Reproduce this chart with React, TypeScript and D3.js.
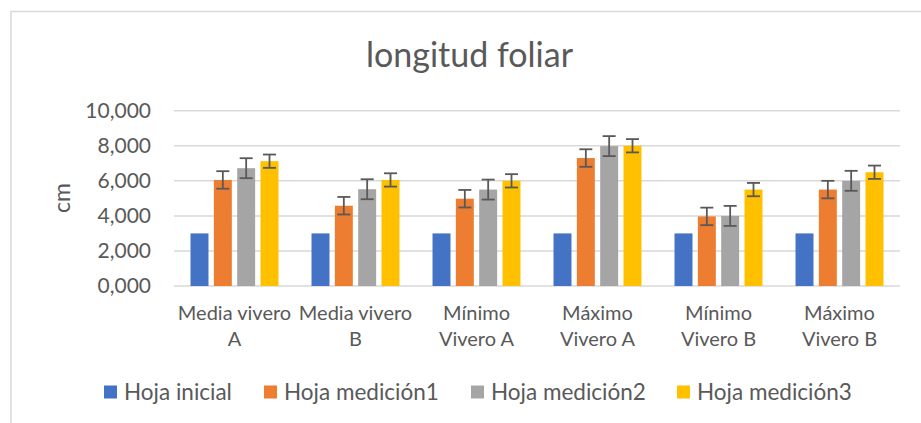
import React from 'react';
import * as d3 from 'd3';

const categoryLines = [
  ['Media vivero', 'A'],
  ['Media vivero', 'B'],
  ['Mínimo', 'Vivero A'],
  ['Máximo', 'Vivero A'],
  ['Mínimo', 'Vivero B'],
  ['Máximo', 'Vivero B'],
];

const seriesNames = ['Hoja inicial', 'Hoja medición1', 'Hoja medición2', 'Hoja medición3'];
const seriesColors = ['#4472C4', '#ED7D31', '#A5A5A5', '#FFC000'];

const hojaInicial = [3.0, 3.0, 3.0, 3.0, 3.0, 3.0];
const hojaMedicion1 = [6.05, 4.58, 4.98, 7.3, 3.97, 5.5];
const hojaMedicion2 = [6.72, 5.52, 5.5, 7.98, 4.0, 6.0];
const hojaMedicion3 = [7.12, 6.05, 6.0, 8.0, 5.5, 6.49];

// error bar half-length per series (null = no error bar)
const seriesErrors = [null, 0.5, 0.57, 0.38];

const yTicks = [0, 2, 4, 6, 8, 10];

const W = 921;
const H = 423;
const margin = { top: 110.7, right: 21, bottom: 137, left: 174 };
const font = 'Lato, "Open Sans", sans-serif';
const textColor = '#595959';
const gridColor = '#d9d9d9';

const locale = d3.formatLocale({ decimal: ',', thousands: '.', grouping: [3], currency: ['', ''] });
const fmt = locale.format('.3f');

const App = () => {
  const series = [hojaInicial, hojaMedicion1, hojaMedicion2, hojaMedicion3];
  const cats = categoryLines.map(l => l.join(' '));

  const x0 = d3.scaleBand<string>()
    .domain(cats)
    .range([margin.left, W - margin.right])
    .paddingInner(0.273)
    .paddingOuter(0.1365);
  const x1 = d3.scaleBand<string>()
    .domain(seriesNames)
    .range([0, x0.bandwidth()])
    .paddingInner(0.23);
  const y = d3.scaleLinear().domain([0, 10]).range([H - margin.bottom, margin.top]);

  const legendX = [104, 264, 471, 677];

  return (
    <svg width={W} height={H} style={{ position: 'fixed', left: 0, top: 0, background: '#fff' }} fontFamily={font}>
      <rect x={11} y={11.5} width={W + 20} height={H + 20} fill="#fff" stroke={gridColor} strokeWidth={1.5} />

      <text x={469.5} y={66.5} textAnchor="middle" fontSize={34} fill={textColor}>longitud foliar</text>

      {yTicks.map(t => (
        <g key={t}>
          <line x1={margin.left} x2={W - margin.right} y1={y(t)} y2={y(t)} stroke={gridColor} strokeWidth={1.5} />
          <text x={151} y={y(t)} dy="0.35em" textAnchor="end" fontSize={21} fill={textColor}>{fmt(t)}</text>
        </g>
      ))}

      <text transform={`translate(70,198) rotate(-90)`} textAnchor="middle" fontSize={23} fill={textColor}>cm</text>

      {series.map((vals, si) => (
        <g key={si}>
          {vals.map((v, ci) => {
            const bx = (x0(cats[ci]) as number) + (x1(seriesNames[si]) as number);
            return (
              <rect key={ci} x={bx} y={y(v)} width={x1.bandwidth()} height={y(0) - y(v)} fill={seriesColors[si]} />
            );
          })}
        </g>
      ))}

      {series.map((vals, si) => {
        const e = seriesErrors[si];
        if (e == null) return null;
        return (
          <g key={si} stroke={textColor} strokeWidth={1.8}>
            {vals.map((v, ci) => {
              const cx = (x0(cats[ci]) as number) + (x1(seriesNames[si]) as number) + x1.bandwidth() / 2;
              return (
                <g key={ci}>
                  <line x1={cx} x2={cx} y1={y(v + e)} y2={y(v - e)} />
                  <line x1={cx - 6.5} x2={cx + 6.5} y1={y(v + e)} y2={y(v + e)} />
                  <line x1={cx - 6.5} x2={cx + 6.5} y1={y(v - e)} y2={y(v - e)} />
                </g>
              );
            })}
          </g>
        );
      })}

      {categoryLines.map((lines, ci) => {
        const cx = (x0(cats[ci]) as number) + x0.bandwidth() / 2;
        return (
          <text key={ci} textAnchor="middle" fontSize={20} fill={textColor}>
            {lines.map((l, li) => (
              <tspan key={li} x={cx} y={320 + li * 26}>{l}</tspan>
            ))}
          </text>
        );
      })}

      {seriesNames.map((name, si) => (
        <g key={name} transform={`translate(${legendX[si]},392)`}>
          <rect x={0} y={-6.5} width={13} height={13} fill={seriesColors[si]} />
          <text x={20} y={0} dy="0.35em" fontSize={22.5} fill={textColor}>{name}</text>
        </g>
      ))}
    </svg>
  );
};

export default App;
